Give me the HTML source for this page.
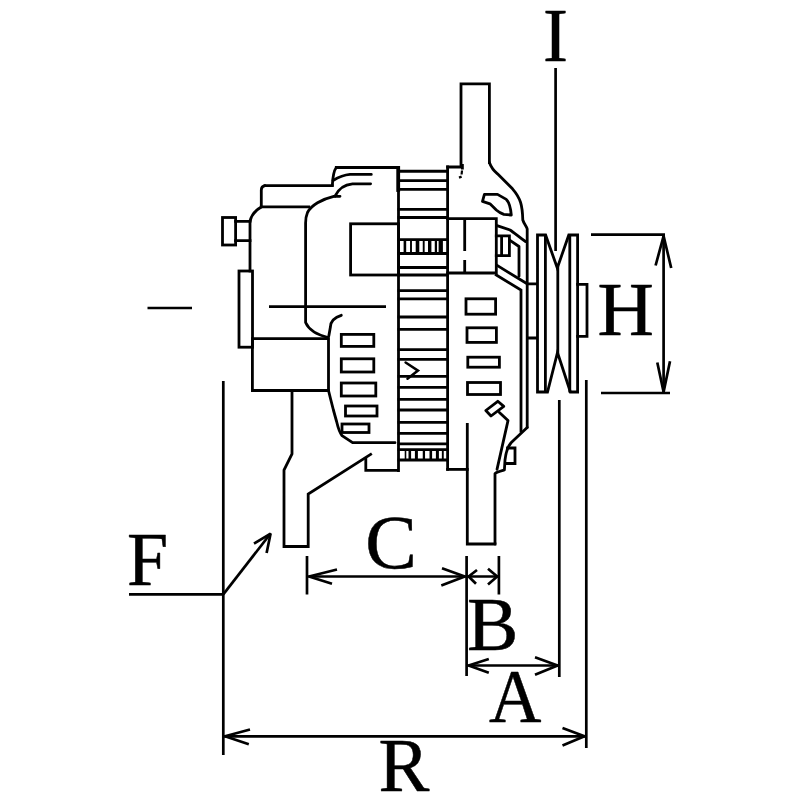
<!DOCTYPE html>
<html>
<head>
<meta charset="utf-8">
<title>Alternator dimensions</title>
<style>
html,body{margin:0;padding:0;background:#fff;}
body{width:800px;height:800px;overflow:hidden;}
svg{display:block;}
.b{fill:none;stroke:#000;stroke-width:2.8;stroke-linecap:square;stroke-linejoin:miter;}
.r{fill:none;stroke:#000;stroke-width:2.8;stroke-linecap:round;stroke-linejoin:round;}
.d{fill:none;stroke:#000;stroke-width:2.7;stroke-linecap:butt;stroke-linejoin:bevel;}
.t{font-family:"Liberation Serif",serif;font-size:76px;fill:#000;stroke:#000;stroke-width:0.5px;stroke-linejoin:round;}
</style>
</head>
<body>
<svg width="800" height="800" viewBox="0 0 800 800">
<rect width="800" height="800" fill="#fff"/>

<!-- ===== dimension lines ===== -->
<g class="d" id="dims">
  <!-- centre line stubs -->
  <path d="M147.5 308H192"/>
  <path d="M269 306.6H386"/>
  <!-- I leader -->
  <path d="M555.6 68V251"/>
  <!-- H -->
  <path d="M591 234.6H665"/>
  <path d="M601 393H670"/>
  <path d="M663.6 235V392"/>
  <path d="M655.6 265.5L663.6 236L671.2 268"/>
  <path d="M657.3 362.5L663.6 392L670 361.3"/>
  <!-- R -->
  <path d="M223.3 381V755"/>
  <path d="M586.3 380V748"/>
  <path d="M223.3 736.3H586"/>
  <path d="M250 729.5L225 736.3L248.8 744.3"/>
  <path d="M562.5 728L584.5 736.3L562.5 745.5"/>
  <!-- F -->
  <path d="M129 594.3H223.3"/>
  <path d="M223.3 594.3L270.2 534"/>
  <path d="M254 543.6L270.6 533.6L266.6 553"/>
  <!-- C / B / A -->
  <path d="M307 556V594.5"/>
  <path d="M466.6 556V676"/>
  <path d="M498.9 556V594.5"/>
  <path d="M559.3 400V677"/>
  <path d="M307 576.5H498.9"/>
  <path d="M337 569.5L309 576.5L332 583.8"/>
  <path d="M442 568.3L464.8 576.5L441.3 585.5"/>
  <path d="M477 570L468.6 576.5L476 583.8"/>
  <path d="M488 568.8L497.2 576.5L488 584.5"/>
  <path d="M467 665.5H559"/>
  <path d="M488.8 659L468.6 665.5L488.8 672.8"/>
  <path d="M535 657.3L557.6 665.5L535 674.8"/>
</g>

<!-- ===== labels ===== -->
<g class="t" id="labels">
  <text transform="translate(543.1 60.6) scale(0.987 1)">I</text>
  <text transform="translate(597.6 334.5) scale(1.028 1)">H</text>
  <text transform="translate(126.9 584.9) scale(0.9735 1)">F</text>
  <text transform="translate(365.2 568.4) scale(1.018 1)">C</text>
  <text transform="translate(467.1 649.7) scale(1.013 1)">B</text>
  <text transform="translate(489.0 721.8) scale(0.955 1)">A</text>
  <text transform="translate(378.6 791.1) scale(1.003 1)">R</text>
</g>

<!-- ===== alternator body ===== -->
<g class="b" id="body">
  <!-- stator pack -->
  <path d="M398.5 167.5V470.5"/>
  <path d="M398.2 168V190" stroke-width="3.8"/>
  <path d="M447.6 167V469.4"/>
  <path d="M399 171.3H447" stroke-width="3"/>
  <path d="M399 180.6H447M399 189.4H447M399 209.4H447M399 217.5H447M399 239.7H447M399 253.5H447M399 267.5H447M399 275H447M399 290.6H447M399 298.8H447M399 317H447M399 329.4H447M399 349.6H447M399 359.4H447M399 376.3H447M399 387.3H447M399 399.4H447M399 410H447M399 422.3H447M399 433.3H447M399 443.8H447M399 449.6H447M399 460H447"/>
  <!-- commutator teeth -->
  <g stroke-linecap="butt">
    <path d="M404.9 240V253.4" stroke-width="2.6"/>
    <path d="M411 240V253.4" stroke-width="1.9"/>
    <path d="M417.5 240V253.4" stroke-width="3.6"/>
    <path d="M423.7 240V253.4" stroke-width="1.9"/>
    <path d="M429.7 240V253.4" stroke-width="3.4"/>
    <path d="M435.9 240V253.4" stroke-width="2.3"/>
    <path d="M440.75 240V253.4" stroke-width="4.3"/>
    <path d="M405.5 450V460" stroke-width="1.6"/>
    <path d="M409.8 450V460" stroke-width="2.6"/>
    <path d="M416.4 450V460" stroke-width="3"/>
    <path d="M423.9 450V460" stroke-width="2.3"/>
    <path d="M430.8 450V460" stroke-width="2.6"/>
    <path d="M437.4 450V460" stroke-width="3"/>
    <path d="M442.8 450V460" stroke-width="1.9"/>
  </g>
  <!-- chevron mark -->
  <path d="M405.6 362.5L418 370.6L407.5 378.8" stroke-linecap="round" stroke-width="2.5"/>

  <!-- rear (left) housing top -->
  <path d="M398 167.5H336.3"/>
  <path class="r" d="M336.3 167.5C333.5 171 332.8 176 332.3 185.6"/>
  <path d="M332.3 185.6H265"/>
  <path class="r" d="M265 185.6C262.5 186 261.3 187.5 261.3 190V206.9"/>
  <path d="M261.3 206.9H308.8"/>
  <path class="r" d="M371.3 174.4H350C343 175 338 177.5 333 180.5"/>
  <path class="r" d="M370.6 183.8H352.5C345 184.5 338.5 188.5 335 196.2"/>
  <path class="r" d="M340 196.3H333.8C322 199 311 205.5 307.5 212.5C306 216 305.6 219 305.6 223V322.5C308 328 314 334 328 337.5"/>
  <path class="r" d="M341.3 315.3C334 317.5 330.6 321 330.4 327L328.8 336"/>
  <!-- left body -->
  <path class="r" d="M261.3 207C254 211 251 216.5 250 221.3"/>
  <path d="M250 221.3V271"/>
  <rect x="222.5" y="217.5" width="13.1" height="27.5"/>
  <path d="M235.6 221.3H250M235.6 240.6H250"/>
  <rect x="239" y="271" width="13.5" height="76.2"/>
  <path d="M252.4 338.7V390.5H328.5V338.7Z"/>
  <rect x="350.6" y="223.8" width="48" height="51.2"/>
  <!-- left housing lower -->
  <path class="r" d="M328.5 390.5L330.6 399L333.4 410L336.6 421.5C338 427.5 339.6 432.5 342 435.6L352.6 442.7H395"/>
  <path d="M365.8 458V470.3H398.5" stroke-linecap="butt"/>
  <path d="M371.8 453.6L308.2 494V546.5H284V470L292 454V391" stroke-linecap="butt"/>
  <!-- left slots -->
  <rect x="341.3" y="334.4" width="32.5" height="12"/>
  <rect x="341.3" y="358.8" width="32.5" height="13.2"/>
  <rect x="341.3" y="383" width="34.5" height="13"/>
  <rect x="345.5" y="406" width="31.5" height="10"/>
  <rect x="342" y="424" width="27" height="8.5"/>

  <!-- front (right) housing -->
  <path d="M447.6 167H461V83.8H489.4V162.5"/>
  <path class="r" d="M489.4 162.5C491 167 494 171 497.5 173.8L512.5 188.8C517 194 519.5 199 520.6 202.5C522 207 522.6 213 522.8 220C524 224 526.6 226 527.2 229V427.5"/>
  <path d="M462.4 164V169.5" stroke-linecap="butt"/>
  <path d="M462 170.5L461.6 174.5" stroke-width="2.2" stroke-linecap="butt"/>
  <path d="M459 177.6L461.6 176.6" stroke-width="2.2" stroke-linecap="butt"/>
  <path class="r" d="M484.4 194.4H497.5L506.3 199.4C509 202 510.5 206 511.3 215L503.8 214.4C500 213 498 211.5 496.3 210L490 203.8L482.5 201.3Z"/>
  <!-- bearing box -->
  <path d="M447.6 218.7H496.3V273H447.6"/>
  <path d="M464.7 219V251M464.7 260V272.5" stroke-linecap="butt"/>
  <path d="M496.3 235.8H509.4V255.6H496.3M501.6 236V255.6"/>
  <path class="r" d="M497 225.6L510 230C514 232.5 519 237 525.5 241.5"/>
  <path class="r" d="M510 240.3L519 246.5V276.3"/>
  <path d="M497.5 265.6L525.5 282.8"/>
  <path d="M496.3 275L521 290V431"/>
  <!-- right slots -->
  <rect x="466" y="298.8" width="29.6" height="15.4"/>
  <rect x="467" y="327.8" width="29.4" height="14.6"/>
  <rect x="467.8" y="357.2" width="31.6" height="10"/>
  <rect x="467.5" y="382.5" width="33" height="12"/>
  <!-- lower right details -->
  <path class="r" d="M485.8 410.5L497.8 401.3L503.8 406.4L491 416Z" stroke-width="2.6"/>
  <path class="r" d="M499.4 412.5L508 420.6L497 469.4"/>
  <path class="r" d="M527.2 427.5L511.3 442.5C508 446 506 452 505 460L504.4 470C501 471 497 472 495 473.5V544"/>
  <path d="M507.5 448H515V463.5H507"/>
  <path d="M447.6 469.4H467.3"/>
  <path d="M467.3 424.5V544H495"/>

  <!-- pulley -->
  <path d="M527 283.8H537.5M527 338H537.5" stroke-linecap="butt"/>
  <path d="M537.5 392V235H545.6L557.3 268L568.8 235H577.6V392H570.4L557.5 352.5L547.5 392Z"/>
  <path d="M545.4 236V391M569.8 236V391M557.8 268V352"/>
  <path d="M577.6 284.4H587V336.3H577.6"/>
</g>
</svg>
</body>
</html>
